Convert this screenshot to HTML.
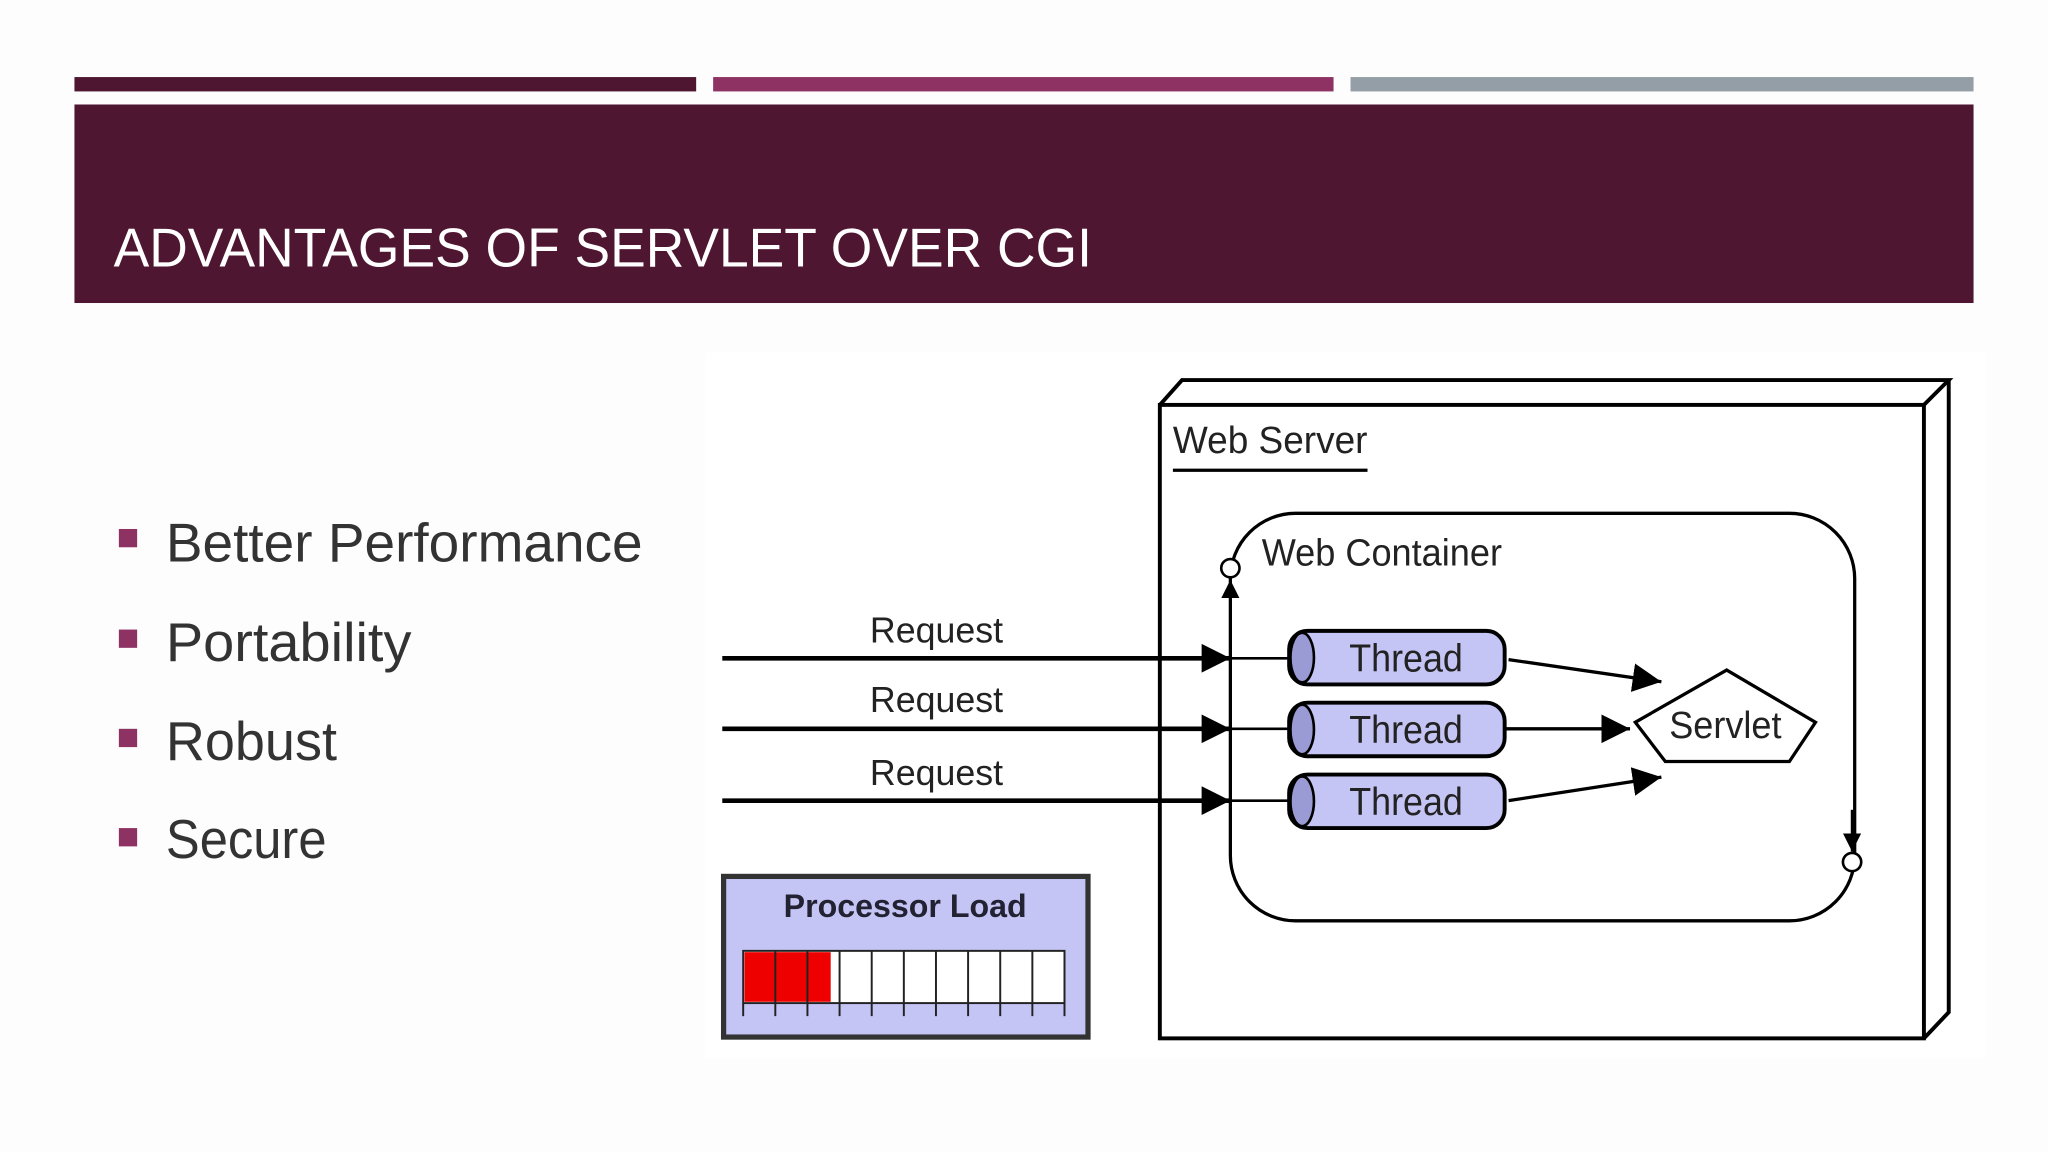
<!DOCTYPE html>
<html><head><meta charset="utf-8"><style>
html,body{margin:0;padding:0;background:#fdfdfd;}
svg{display:block}
</style></head><body>
<svg width="2048" height="1152" viewBox="0 0 1568 882" xmlns="http://www.w3.org/2000/svg">
<defs>
<marker id="ah" viewBox="0 0 10 10" refX="10" refY="5" markerWidth="22" markerHeight="24" markerUnits="userSpaceOnUse" orient="auto">
<path d="M0,0 L10,5 L0,10 z" fill="#000"/></marker>
<marker id="ahs" viewBox="0 0 10 10" refX="10" refY="5" markerWidth="14" markerHeight="14" markerUnits="userSpaceOnUse" orient="auto">
<path d="M0,0 L10,5 L0,10 z" fill="#000"/></marker>
</defs>
<rect width="1568" height="882" fill="#fdfdfd"/>
<rect x="57" y="59" width="476" height="11" fill="#4f1632"/>
<rect x="546" y="59" width="475" height="11" fill="#8e3264"/>
<rect x="1034" y="59" width="477" height="11" fill="#949ea6"/>
<rect x="57" y="80" width="1454" height="152" fill="#4f1632"/>
<text x="87" y="204" font-family="Liberation Sans, sans-serif" font-size="42" fill="#fff" textLength="749" lengthAdjust="spacingAndGlyphs">ADVANTAGES OF SERVLET OVER CGI</text>
<g font-family="Liberation Sans, sans-serif" font-size="42" fill="#333">
<rect x="91" y="405" width="14" height="14" fill="#8e3264"/>
<text x="127" y="430" textLength="365" lengthAdjust="spacingAndGlyphs">Better Performance</text>
<rect x="91" y="482" width="14" height="14" fill="#8e3264"/>
<text x="127" y="506" textLength="188" lengthAdjust="spacingAndGlyphs">Portability</text>
<rect x="91" y="558" width="14" height="14" fill="#8e3264"/>
<text x="127" y="582" textLength="131" lengthAdjust="spacingAndGlyphs">Robust</text>
<rect x="91" y="634" width="14" height="14" fill="#8e3264"/>
<text x="127" y="657" textLength="123" lengthAdjust="spacingAndGlyphs">Secure</text>
</g>
<rect x="540" y="270" width="980" height="540" fill="#fff"/>
<g stroke="#000" stroke-width="3" fill="none">
<rect x="888" y="310" width="585" height="485"/>
<path d="M888,310 L905,291 L1492,291 L1473,310"/>
<path d="M1492,291 L1492,775 L1473,795"/>
<rect x="942" y="393" width="478" height="312" rx="50" stroke-width="2.5"/>
</g>
<g font-family="Liberation Sans, sans-serif" fill="#222">
<text x="898" y="347" font-size="29" textLength="149" lengthAdjust="spacingAndGlyphs">Web Server</text>
<line x1="898" y1="360" x2="1047" y2="360" stroke="#000" stroke-width="2.5"/>
<text x="966" y="433" font-size="29" textLength="184" lengthAdjust="spacingAndGlyphs">Web Container</text>
<text x="666" y="492" font-size="28" textLength="102" lengthAdjust="spacingAndGlyphs">Request</text>
<text x="666" y="545" font-size="28" textLength="102" lengthAdjust="spacingAndGlyphs">Request</text>
<text x="666" y="601" font-size="28" textLength="102" lengthAdjust="spacingAndGlyphs">Request</text>
</g>
<circle cx="942" cy="435" r="7" fill="#fff" stroke="#000" stroke-width="2"/>
<line x1="942" y1="475" x2="942" y2="444" stroke="#000" stroke-width="2" marker-end="url(#ahs)"/>
<circle cx="1418" cy="660" r="7" fill="#fff" stroke="#000" stroke-width="2"/>
<line x1="1418" y1="620" x2="1418" y2="652" stroke="#000" stroke-width="2" marker-end="url(#ahs)"/>
<g stroke="#000">
<line x1="553" y1="504" x2="942" y2="504" stroke-width="3.5" marker-end="url(#ah)"/>
<line x1="553" y1="558" x2="942" y2="558" stroke-width="3.5" marker-end="url(#ah)"/>
<line x1="553" y1="613" x2="942" y2="613" stroke-width="3.5" marker-end="url(#ah)"/>
<line x1="942" y1="504" x2="990" y2="504" stroke-width="2"/>
<line x1="942" y1="558" x2="990" y2="558" stroke-width="2"/>
<line x1="942" y1="613" x2="990" y2="613" stroke-width="2"/>
<line x1="1155" y1="505" x2="1272" y2="522" stroke-width="2.5" marker-end="url(#ah)"/>
<line x1="1152" y1="558" x2="1248" y2="558" stroke-width="2.5" marker-end="url(#ah)"/>
<line x1="1155" y1="613" x2="1272" y2="595" stroke-width="2.5" marker-end="url(#ah)"/>
</g>
<g stroke="#000" stroke-width="3">
<rect x="987" y="483" width="165" height="41" rx="14" fill="#c5c5f5"/>
<ellipse cx="997" cy="503.5" rx="9" ry="19" fill="#9a9ad4" stroke-width="2"/>
<rect x="987" y="538" width="165" height="41" rx="14" fill="#c5c5f5"/>
<ellipse cx="997" cy="558.5" rx="9" ry="19" fill="#9a9ad4" stroke-width="2"/>
<rect x="987" y="593" width="165" height="41" rx="14" fill="#c5c5f5"/>
<ellipse cx="997" cy="613.5" rx="9" ry="19" fill="#9a9ad4" stroke-width="2"/>
</g>
<g font-family="Liberation Sans, sans-serif" font-size="30" fill="#222">
<text x="1033" y="514" textLength="87" lengthAdjust="spacingAndGlyphs">Thread</text>
<text x="1033" y="569" textLength="87" lengthAdjust="spacingAndGlyphs">Thread</text>
<text x="1033" y="624" textLength="87" lengthAdjust="spacingAndGlyphs">Thread</text>
</g>
<polygon points="1322,513 1390,553 1370,583 1275,583 1252,553" fill="#fff" stroke="#000" stroke-width="2.5"/>
<text x="1278" y="565" font-family="Liberation Sans, sans-serif" font-size="29" fill="#222" textLength="86" lengthAdjust="spacingAndGlyphs">Servlet</text>
<rect x="554" y="671" width="279" height="123" fill="#c5c5f5" stroke="#333" stroke-width="4"/>
<text x="600" y="702" font-family="Liberation Sans, sans-serif" font-size="25" font-weight="bold" fill="#222233" textLength="186" lengthAdjust="spacingAndGlyphs">Processor Load</text>
<rect x="569" y="728" width="246" height="40" fill="#fff" stroke="#222" stroke-width="1.5"/>
<rect x="570" y="729" width="66" height="38" fill="#ee0000"/>
<g stroke="#222" stroke-width="1.5">
<line x1="569" y1="768" x2="569" y2="778"/>
<line x1="593.6" y1="728" x2="593.6" y2="778"/>
<line x1="618.2" y1="728" x2="618.2" y2="778"/>
<line x1="642.8" y1="728" x2="642.8" y2="778"/>
<line x1="667.4" y1="728" x2="667.4" y2="778"/>
<line x1="692" y1="728" x2="692" y2="778"/>
<line x1="716.6" y1="728" x2="716.6" y2="778"/>
<line x1="741.2" y1="728" x2="741.2" y2="778"/>
<line x1="765.8" y1="728" x2="765.8" y2="778"/>
<line x1="790.4" y1="728" x2="790.4" y2="778"/>
<line x1="815" y1="728" x2="815" y2="778"/>
</g>
</svg>
</body></html>
